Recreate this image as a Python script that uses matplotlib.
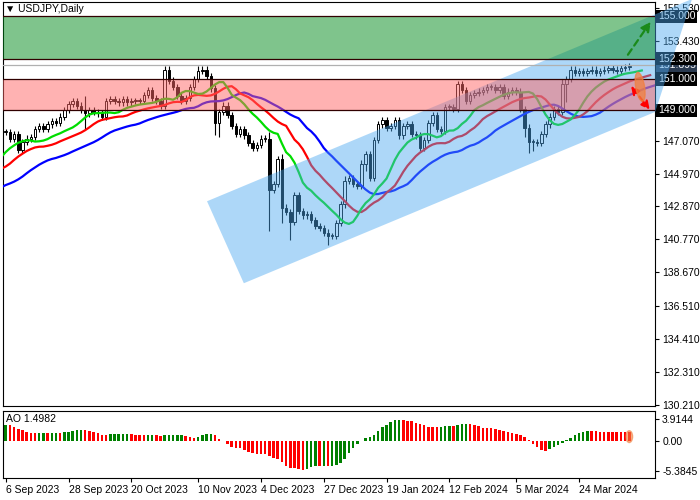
import matplotlib
matplotlib.use("Agg")
import matplotlib.pyplot as plt
import numpy as np
from matplotlib.patches import Polygon, Ellipse

plt.rcParams["font.family"] = ["Liberation Sans", "DejaVu Sans"]

# warm-up closes before the visible window (used only for indicators)
warmup = [138.5, 138.1, 138.8, 139.8, 140.0, 141.5, 141.2, 140.0, 139.4, 141.1,
          141.3, 142.3, 142.8, 143.3, 142.5, 141.8, 142.3, 143.3, 143.7, 144.6,
          144.9, 145.6, 146.3, 145.9, 145.4, 145.2, 146.2, 145.9, 144.8, 146.4,
          146.5, 146.0, 145.6, 145.5, 146.2, 146.5, 147.3, 147.7, 147.4, 147.6]

closes = [147.6, 147.2, 147.5, 146.5, 147.0, 147.2, 147.3, 147.8, 148.0, 147.8,
          148.1, 148.3, 148.2, 148.6, 149.0, 149.4, 149.6, 149.3, 149.0, 148.8,
          149.0, 148.9, 148.8, 148.6, 149.6, 149.7, 149.6, 149.5, 149.7, 149.5,
          149.6, 149.6, 149.6, 150.0, 150.3, 149.8, 149.6, 149.3, 151.6, 150.9,
          150.5, 149.9, 149.6, 149.8, 150.5, 151.0, 151.5, 151.6, 151.2, 150.4,
          148.2, 148.9, 149.3, 148.7, 148.0, 147.5, 147.8, 147.4, 146.9, 146.6,
          146.8, 147.2, 147.2, 143.9, 144.3, 145.9, 142.8, 142.5, 141.9, 143.6,
          142.6, 142.3, 142.4, 142.0, 141.6, 141.5, 141.2, 141.0, 141.0, 141.8,
          143.0, 144.5, 144.7, 144.3, 144.2, 145.6, 146.2, 144.7, 147.1, 148.1,
          148.4, 147.9, 148.0, 148.4, 147.4, 148.0, 148.1, 147.5, 147.4, 146.6,
          147.1, 148.2, 148.7, 147.8, 147.7, 149.2, 149.2, 149.1, 150.7, 150.3,
          149.6, 150.0, 150.1, 150.2, 150.3, 150.5, 150.5, 150.3, 150.5, 149.9,
          150.2, 150.3, 150.2, 149.1, 147.9, 147.0, 147.0, 146.9, 147.5, 148.1,
          148.6, 149.1, 148.9, 150.7, 151.0, 151.6, 151.4, 151.5, 151.4, 151.5,
          151.6, 151.4, 151.5, 151.6, 151.7, 151.6, 151.5, 151.7, 151.75, 151.8]

# wick sizes (upper / lower) for the visible bars, mostly small
up_wick = [0.2] * 150
lo_wick = [0.2] * 150
for i, w in [(19, 0.9), (46, 0.3), (63, 0.4), (66, 0.3), (81, 0.3), (133, 0.3)]:
    up_wick[i] = w
for i, w in [(19, 1.0), (50, 0.8), (51, 0.9), (63, 2.6), (66, 1.0), (68, 1.2), (77, 0.6),
             (86, 0.5), (124, 0.6), (125, 0.7), (126, 0.6), (134, 1.2)]:
    lo_wick[i] = w

date_labels = ["6 Sep 2023", "28 Sep 2023", "20 Oct 2023", "10 Nov 2023", "4 Dec 2023",
               "27 Dec 2023", "19 Jan 2024", "12 Feb 2024", "5 Mar 2024", "24 Mar 2024"]
price_ticks = [155.530, 153.430, 147.070, 144.970, 142.870, 140.770, 138.670,
               136.510, 134.410, 132.310, 130.210]
levels = [155.0, 152.3, 151.0, 149.0]
last_price = 151.895

allc = np.array(warmup + closes)
allo = np.r_[allc[0], allc[:-1]]
nw = len(warmup)
xs_all = np.arange(len(allc)) - nw
hi_all = np.maximum(allo, allc) + np.r_[[0.25] * nw, up_wick]
lo_all = np.minimum(allo, allc) - np.r_[[0.25] * nw, lo_wick]
med = (hi_all + lo_all) / 2


def smma(x, n):
    out = np.empty_like(x)
    out[:n] = np.nan
    out[n - 1] = x[:n].mean()
    for k in range(n, len(x)):
        out[k] = (out[k - 1] * (n - 1) + x[k]) / n
    return out


def sma(x, n):
    return np.convolve(x, np.ones(n) / n, mode="full")[:len(x)]


fig = plt.figure(figsize=(7, 5), dpi=100)
ax = fig.add_axes([0.004, 0.188, 0.932, 0.808])
ax2 = fig.add_axes([0.004, 0.044, 0.932, 0.134])

# candles
o = allo[nw:]
c = allc[nw:]
x = np.arange(len(c))
ax.vlines(x, lo_all[nw:], hi_all[nw:], color="black", lw=0.8, zorder=2)
bull = c >= o
body = np.maximum(np.abs(c - o), 0.05)
ax.bar(x[bull], body[bull], bottom=np.minimum(o, c)[bull], width=0.6,
       color="white", edgecolor="black", lw=0.7, zorder=3)
ax.bar(x[~bull], body[~bull], bottom=np.minimum(o, c)[~bull], width=0.6,
       color="black", edgecolor="black", lw=0.7, zorder=3)

# alligator
for n, sh, col in [(13, 8, "#0000ff"), (8, 5, "#ff0000"), (5, 3, "#00dd00")]:
    line = smma(med, n)
    ax.plot(xs_all + sh, line, color=col, lw=1.6, zorder=4)

# channel
chan = Polygon([(48.1, 143.2), (56.9, 137.97), (155.2, 148.9), (164, 156.1)],
               closed=True, facecolor="#4aa8f0", alpha=0.45, lw=0, zorder=5, clip_on=False)
ax.add_patch(chan)

# zones
ax.axhspan(152.3, 155.0, color="#008a1a", alpha=0.5, lw=0, zorder=6)
ax.axhspan(149.0, 151.0, color="#ff6666", alpha=0.5, lw=0, zorder=6)
for lv in levels:
    ax.axhline(lv, color="#300000", lw=0.9, zorder=7)
ax.axhline(last_price, color="#b0b0b0", lw=0.9, zorder=7)

# arrows and marker
ax.annotate("", xy=(154.5, 154.8), xytext=(148.3, 152.4),
            arrowprops=dict(arrowstyle="-|>", color="#1a8a1a", lw=1.6, ls=(0, (3, 2)),
                            mutation_scale=14), zorder=8, annotation_clip=False)
ax.annotate("", xy=(154.3, 148.9), xytext=(149.0, 150.7),
            arrowprops=dict(arrowstyle="<|-|>", color="#ff0000", lw=1.6, ls=(0, (3, 2)),
                            mutation_scale=12), zorder=8, annotation_clip=False)
ax.add_patch(Ellipse((151.6, 150.5), 2.6, 1.5, angle=-30, color="#f08040", alpha=0.75, zorder=8))

ax.set_xlim(-0.7, 155.2)
ax.set_ylim(130.14, 155.91)
ax.yaxis.tick_right()
ax.set_yticks(price_ticks)
ax.set_yticklabels([f"{t:.3f}" for t in price_ticks], fontsize=7.5)
ax.set_xticks([])
ax.tick_params(axis="y", length=3, pad=2)
for lv, bg in [(last_price, "#2a3a50"), (155.0, "black"), (152.3, "black"), (151.0, "black"), (149.0, "black")]:
    ax.text(1.004, lv, f"{lv:.3f}", transform=ax.get_yaxis_transform(), fontsize=7.5,
            color="white", va="center", ha="left",
            bbox=dict(boxstyle="square,pad=0.15", fc=bg, ec="none"))
ax.text(0.003, 0.995, "\u25bc USDJPY,Daily", transform=ax.transAxes, fontsize=7.5,
        va="top", ha="left", zorder=10)

# AO
ao = sma(med, 5) - sma(med, 34)
ao_vis = ao[nw:]
prev = ao[nw - 1:-1]
cols = np.where(ao_vis >= prev, "#008000", "#ff0000")
ax2.bar(x, ao_vis, width=0.6, color=cols)
ax2.add_patch(Ellipse((x[-1], ao_vis[-1] / 2), 1.6, abs(ao_vis[-1]) + 0.6, color="#f08040", alpha=0.6))
ax2.set_xlim(-0.7, 155.2)
ax2.set_ylim(-6.6, 5.3)
ax2.yaxis.tick_right()
ax2.set_yticks([3.9144, 0.0, -5.3845])
ax2.set_yticklabels(["3.9144", "0.00", "-5.3845"], fontsize=7.5)
ax2.tick_params(axis="y", length=3, pad=2)
ax2.set_xticks([round(15.2 * k) for k in range(len(date_labels))])
ax2.set_xticklabels(date_labels, fontsize=7.5, ha="left")
ax2.tick_params(axis="x", length=3, pad=2)
ax2.text(0.005, 0.95, f"AO {ao_vis[-1]:.4f}", transform=ax2.transAxes, fontsize=7.5, va="top")

fig.savefig("out.png", dpi=100)
